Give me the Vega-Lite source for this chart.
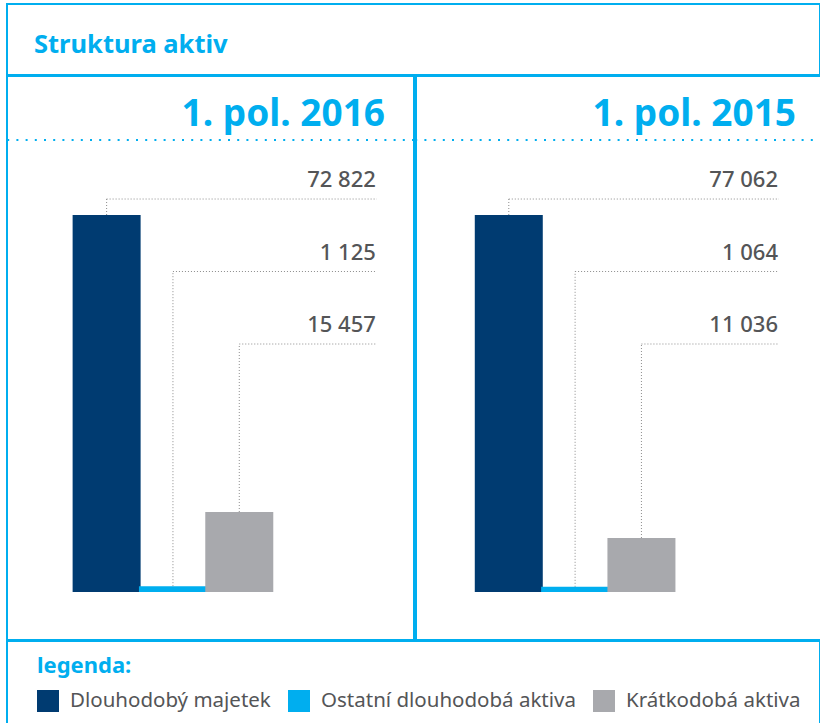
{
  "$schema": "https://vega.github.io/schema/vega-lite/v6.json",
  "padding": {"left": 5, "top": 3, "right": 0, "bottom": 0},
  "autosize": {"type": "pad"},
  "spacing": -2,
  "background": "white",
  "config": {
    "view": {"stroke": "#00aeef", "strokeWidth": 2},
    "font": "Noto Sans",
    "locale": {"number": {"decimal": ",", "thousands": " ", "grouping": [3], "currency": ["", " Kč"]}}
  },
  "datasets": {
    "aktiva": [
      {"obdobi": "1. pol. 2016", "kategorie": "Dlouhodobý majetek", "hodnota": 72822},
      {"obdobi": "1. pol. 2016", "kategorie": "Ostatní dlouhodobá aktiva", "hodnota": 1125},
      {"obdobi": "1. pol. 2016", "kategorie": "Krátkodobá aktiva", "hodnota": 15457},
      {"obdobi": "1. pol. 2015", "kategorie": "Dlouhodobý majetek", "hodnota": 77062},
      {"obdobi": "1. pol. 2015", "kategorie": "Ostatní dlouhodobá aktiva", "hodnota": 1064},
      {"obdobi": "1. pol. 2015", "kategorie": "Krátkodobá aktiva", "hodnota": 11036}
    ]
  },
  "vconcat": [
    {
      "width": 813,
      "height": 71,
      "data": {"values": [{}]},
      "mark": {"type": "point", "opacity": 0, "size": 1},
      "encoding": {
        "x": {"datum": 0, "type": "quantitative", "axis": null, "scale": {"domain": [-1, 1]}},
        "y": {"datum": 0, "type": "quantitative", "axis": null, "scale": {"domain": [-1, 1]}}
      },
      "title": {"text": "Struktura aktiv", "anchor": "start", "dx": 27, "offset": -74, "baseline": "alphabetic", "fontSize": 25.5, "color": "#00aeef", "font": "Noto Sans", "fontWeight": "bold"}
    },
    {
      "hconcat": [
        {
          "width": 407,
          "height": 564,
          "data": {"name": "aktiva"},
          "transform": [
            {"filter": "datum.obdobi === '1. pol. 2016'"},
            {"window": [{"op": "row_number", "as": "poradi"}]},
            {"joinaggregate": [{"op": "max", "field": "hodnota", "as": "maximum"}]},
            {"calculate": "datum.hodnota / datum.maximum", "as": "podil"},
            {"calculate": "1.0424 - 0.1923 * (datum.poradi - 1)", "as": "uroven"}
          ],
          "title": {"text": "1. pol. 2016", "anchor": "end", "dx": -30, "offset": -87, "baseline": "alphabetic", "fontSize": 37, "color": "#00aeef", "font": "Noto Sans", "fontWeight": "bold"},
          "layer": [
            {
              "transform": [{"filter": "datum.poradi === 1"}],
              "mark": {"type": "rule", "stroke": "#00aeef", "strokeWidth": 2, "strokeDash": [2, 7.2]},
              "encoding": {"y": {"datum": 1.199, "type": "quantitative", "scale": {"domain": [-0.1273, 1.3687], "nice": false, "zero": false}, "axis": null}}
            },
            {
              "mark": {"type": "rule", "stroke": "#8c8c8c", "strokeWidth": 1, "strokeDash": [1, 2]},
              "encoding": {
                "x": {"field": "poradi", "type": "quantitative", "scale": {"domain": [-0.4265, 5.5588], "nice": false, "zero": false}, "axis": null},
                "y": {"field": "podil", "type": "quantitative", "scale": {"domain": [-0.1273, 1.3687], "nice": false, "zero": false}, "axis": null},
                "y2": {"field": "uroven"}
              }
            },
            {
              "mark": {"type": "rule", "stroke": "#8c8c8c", "strokeWidth": 1, "strokeDash": [1, 2]},
              "encoding": {
                "x": {"field": "poradi", "type": "quantitative"},
                "x2": {"datum": 5.074},
                "y": {"field": "uroven", "type": "quantitative"}
              }
            },
            {
              "mark": {"type": "text", "align": "right", "baseline": "alphabetic", "dx": -1, "dy": -12, "fontSize": 22, "fontWeight": 500, "color": "#545557", "font": "Noto Sans"},
              "encoding": {
                "x": {"datum": 5.074, "type": "quantitative"},
                "y": {"field": "uroven", "type": "quantitative"},
                "text": {"field": "hodnota", "type": "quantitative", "format": ",d"}
              }
            },
            {
              "mark": {"type": "bar", "width": 68},
              "encoding": {
                "x": {"field": "poradi", "type": "quantitative"},
                "y": {"field": "podil", "type": "quantitative"},
                "y2": {"datum": 0},
                "color": {
                  "field": "kategorie", "type": "nominal",
                  "scale": {"domain": ["Dlouhodobý majetek", "Ostatní dlouhodobá aktiva", "Krátkodobá aktiva"], "range": ["#003b71", "#00aeef", "#a8a9ad"]},
                  "legend": {"title": "legenda:", "orient": "none", "legendX": 30, "legendY": 652, "direction": "horizontal", "titleFont": "Noto Sans", "titleFontSize": 22, "titleFontWeight": "bold", "titleColor": "#00aeef", "titlePadding": 12, "labelFont": "Noto Sans", "labelFontSize": 20.5, "labelColor": "#545557", "labelLimit": 400, "labelOffset": 11, "symbolType": "square", "symbolSize": 484, "symbolStrokeWidth": 0, "symbolOpacity": 1, "columnPadding": 17, "padding": 0}
                }
              }
            }
          ]
        },
        {
          "width": 406,
          "height": 564,
          "data": {"name": "aktiva"},
          "transform": [
            {"filter": "datum.obdobi === '1. pol. 2015'"},
            {"window": [{"op": "row_number", "as": "poradi"}]},
            {"joinaggregate": [{"op": "max", "field": "hodnota", "as": "maximum"}]},
            {"calculate": "datum.hodnota / datum.maximum", "as": "podil"},
            {"calculate": "1.0424 - 0.1923 * (datum.poradi - 1)", "as": "uroven"}
          ],
          "title": {"text": "1. pol. 2015", "anchor": "end", "dx": -27, "offset": -87, "baseline": "alphabetic", "fontSize": 37, "color": "#00aeef", "font": "Noto Sans", "fontWeight": "bold"},
          "layer": [
            {
              "transform": [{"filter": "datum.poradi === 1"}],
              "mark": {"type": "rule", "stroke": "#00aeef", "strokeWidth": 2, "strokeDash": [2, 7.2]},
              "encoding": {"y": {"datum": 1.199, "type": "quantitative", "scale": {"domain": [-0.1273, 1.3687], "nice": false, "zero": false}, "axis": null}}
            },
            {
              "mark": {"type": "rule", "stroke": "#8c8c8c", "strokeWidth": 1, "strokeDash": [1, 2]},
              "encoding": {
                "x": {"field": "poradi", "type": "quantitative", "scale": {"domain": [-0.3235, 5.647], "nice": false, "zero": false}, "axis": null},
                "y": {"field": "podil", "type": "quantitative", "scale": {"domain": [-0.1273, 1.3687], "nice": false, "zero": false}, "axis": null},
                "y2": {"field": "uroven"}
              }
            },
            {
              "mark": {"type": "rule", "stroke": "#8c8c8c", "strokeWidth": 1, "strokeDash": [1, 2]},
              "encoding": {
                "x": {"field": "poradi", "type": "quantitative"},
                "x2": {"datum": 5.074},
                "y": {"field": "uroven", "type": "quantitative"}
              }
            },
            {
              "mark": {"type": "text", "align": "right", "baseline": "alphabetic", "dx": -1, "dy": -12, "fontSize": 22, "fontWeight": 500, "color": "#545557", "font": "Noto Sans"},
              "encoding": {
                "x": {"datum": 5.074, "type": "quantitative"},
                "y": {"field": "uroven", "type": "quantitative"},
                "text": {"field": "hodnota", "type": "quantitative", "format": ",d"}
              }
            },
            {
              "mark": {"type": "bar", "width": 68},
              "encoding": {
                "x": {"field": "poradi", "type": "quantitative"},
                "y": {"field": "podil", "type": "quantitative"},
                "y2": {"datum": 0},
                "color": {
                  "field": "kategorie", "type": "nominal",
                  "scale": {"domain": ["Dlouhodobý majetek", "Ostatní dlouhodobá aktiva", "Krátkodobá aktiva"], "range": ["#003b71", "#00aeef", "#a8a9ad"]},
                  "legend": {"title": "legenda:", "orient": "none", "legendX": 30, "legendY": 652, "direction": "horizontal", "titleFont": "Noto Sans", "titleFontSize": 22, "titleFontWeight": "bold", "titleColor": "#00aeef", "titlePadding": 12, "labelFont": "Noto Sans", "labelFontSize": 20.5, "labelColor": "#545557", "labelLimit": 400, "labelOffset": 11, "symbolType": "square", "symbolSize": 484, "symbolStrokeWidth": 0, "symbolOpacity": 1, "columnPadding": 17, "padding": 0}
                }
              }
            }
          ]
        }
      ],
      "spacing": -2
    },
    {
      "width": 813,
      "height": 83,
      "data": {"values": [{}]},
      "mark": {"type": "point", "opacity": 0, "size": 1},
      "encoding": {
        "x": {"datum": 0, "type": "quantitative", "axis": null, "scale": {"domain": [-1, 1]}},
        "y": {"datum": 0, "type": "quantitative", "axis": null, "scale": {"domain": [-1, 1]}}
      }
    }
  ]
}
